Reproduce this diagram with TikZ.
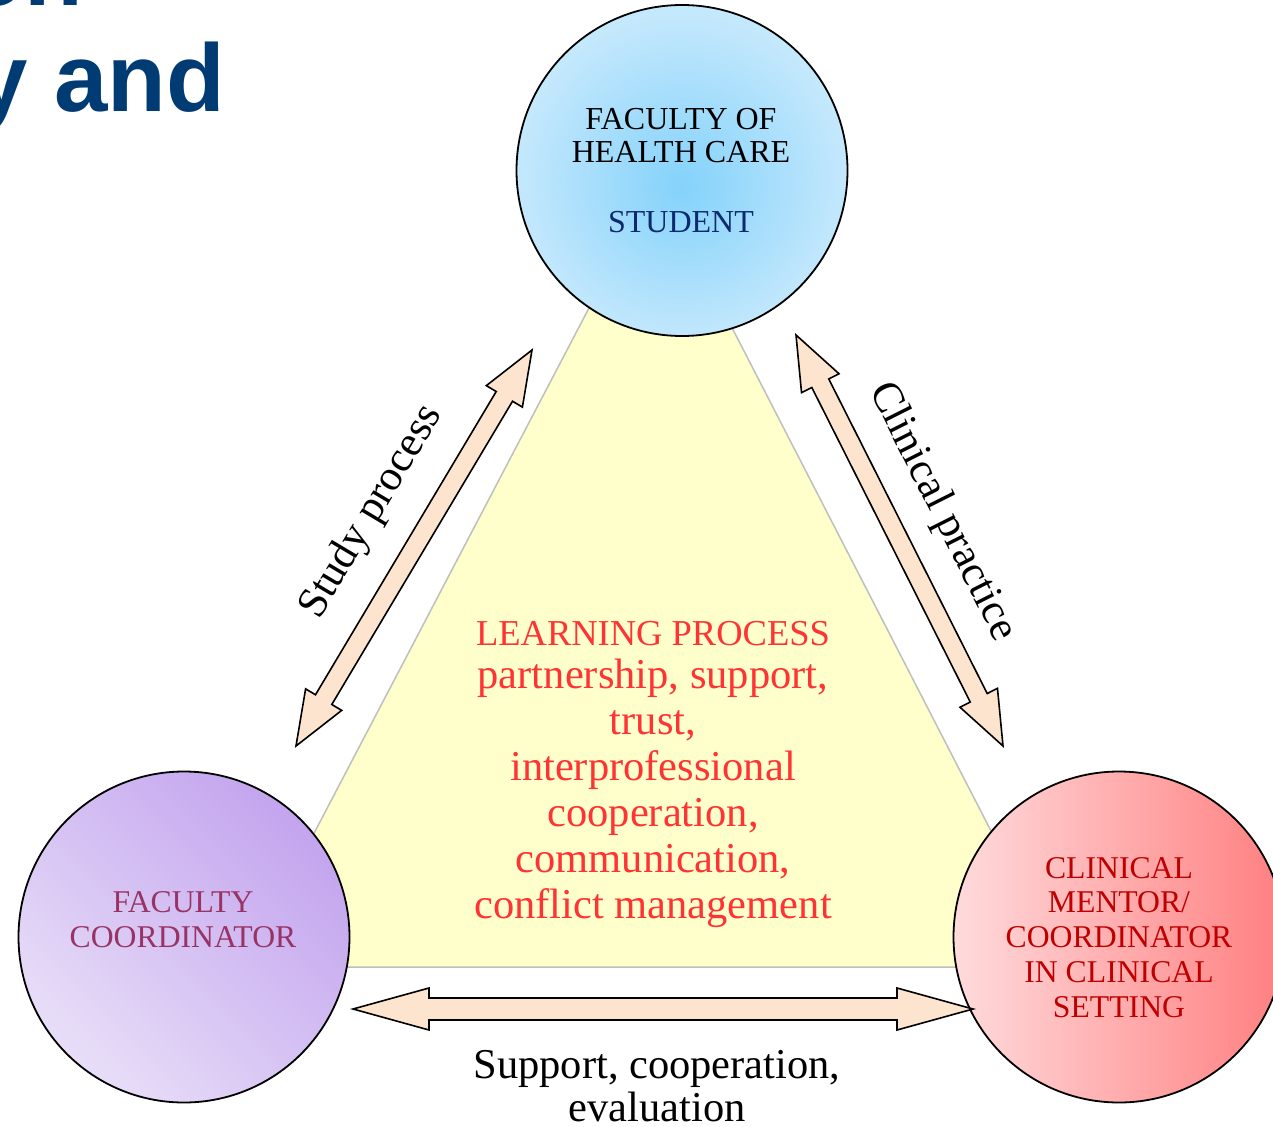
\documentclass[tikz,border=0pt]{standalone}
\usepackage{fontspec}
\setmainfont{Liberation Serif}
\newfontfamily\titlefont{Liberation Sans}
\usetikzlibrary{calc}
\definecolor{tbin}{HTML}{84D2FB}
\definecolor{tbout}{HTML}{C4E8FC}
\definecolor{pbot}{HTML}{E8DEF8}
\definecolor{ptop}{HTML}{C3A4EE}
\definecolor{rleft}{HTML}{FFDBDC}
\definecolor{rright}{HTML}{FF7F80}
\definecolor{titleblue}{HTML}{003B73}
\definecolor{studentblue}{HTML}{0E2A6E}
\definecolor{plum}{HTML}{993366}
\definecolor{mentorred}{HTML}{C00000}
\definecolor{learnred}{HTML}{FF3333}
\definecolor{trifill}{HTML}{FFFFCC}
\definecolor{trigray}{HTML}{BFBFBF}
\definecolor{peach}{HTML}{FDE4CF}
\pgfdeclareradialshading{topball}{\pgfpoint{0bp}{-2.5bp}}{color(0bp)=(tbin); color(25bp)=(tbout); color(50bp)=(tbout)}
\pgfdeclareverticalshading{purpball}{100bp}{color(0bp)=(pbot); color(25bp)=(pbot); color(75bp)=(ptop); color(100bp)=(ptop)}
\pgfdeclarehorizontalshading{redball}{100bp}{color(0bp)=(rleft); color(25bp)=(rleft); color(75bp)=(rright); color(100bp)=(rright)}
\tikzset{
  ball/.style={circle, draw=black, line width=1.8pt, minimum size=331pt, inner sep=0pt},
  barrow/.style={draw=black, fill=peach, line width=1.6pt, line join=miter},
  tri/.style={draw=trigray, fill=trifill, line width=1.5pt},
  txt/.style={inner sep=0pt, align=center, anchor=base},
}
\newcommand\blockarrow[5]{%
  \draw[barrow] (#1)
    -- ($(#1)!#5!(#2)!#4!90:(#2)$)
    -- ($(#1)!#5!(#2)!#3!90:(#2)$)
    -- ($(#2)!#5!(#1)!#3!-90:(#1)$)
    -- ($(#2)!#5!(#1)!#4!-90:(#1)$)
    -- (#2)
    -- ($(#2)!#5!(#1)!#4!90:(#1)$)
    -- ($(#2)!#5!(#1)!#3!90:(#1)$)
    -- ($(#1)!#5!(#2)!#3!-90:(#2)$)
    -- ($(#1)!#5!(#2)!#4!-90:(#2)$)
    -- cycle;}
\begin{document}
\begin{tikzpicture}[x=1pt,y=-1pt]
\useasboundingbox (0,0) rectangle (1273,1126);
\clip (0,0) rectangle (1273,1126);
\fill[white] (0,0) rectangle (1273,1126);
% title fragments
\node[inner sep=0pt, anchor=base west, text=titleblue, font=\titlefont\bfseries\fontsize{96}{106}\selectfont] (title1) at (-34,6) {on};
\node[inner sep=0pt, anchor=base west, text=titleblue, font=\titlefont\bfseries\fontsize{96}{106}\selectfont] (title2) at (-26,112) {y and};
% triangle
\coordinate (tTop) at (656,180);
\coordinate (tL) at (244,967);
\coordinate (tR) at (1061,967);
\draw[tri] (tTop) -- (tL) -- (tR) -- cycle;
% circles
\node[ball, shading=topball] (student) at (682,170.5) {};
\node[ball, shading=purpball, shading angle=-45] (faccoord) at (184,937) {};
\node[ball, shading=redball] (mentor) at (1119,937) {};
% circle texts (base anchor = last line baseline)
\node[txt, font=\fontsize{32}{33}\selectfont] (studT1) at (681,163) {FACULTY OF\\HEALTH CARE};
\node[txt, text=studentblue, font=\fontsize{32}{33}\selectfont] (studT2) at (681,232) {STUDENT};
\node[txt, text=plum, font=\fontsize{31.7}{35}\selectfont] (facT) at (183,947) {FACULTY\\COORDINATOR};
\node[txt, text=mentorred, font=\fontsize{31.7}{34.7}\selectfont] (menT) at (1119,1017) {CLINICAL\\MENTOR/\\COORDINATOR\\IN CLINICAL\\SETTING};
% learning text
\node[txt, text=learnred, font=\fontsize{42.5}{46}\selectfont] (learn) at (653,918) {{\fontsize{36.5}{46}\selectfont LEARNING PROCESS}\\[-3pt]partnership, support,\\trust,\\interprofessional\\cooperation,\\communication,\\conflict management};
% arrows
\coordinate (sA) at (296,746);
\coordinate (sB) at (532,350);
\coordinate (cA) at (796,335);
\coordinate (cB) at (1003,746);
\coordinate (bA) at (353,1009);
\coordinate (bB) at (973,1009);
\blockarrow{sA}{sB}{9.5pt}{21pt}{54pt}
\blockarrow{cA}{cB}{9.5pt}{21pt}{54pt}
\blockarrow{bA}{bB}{11pt}{21pt}{76pt}
% arrow labels
\node[inner sep=0pt, rotate=59.2, font=\fontsize{43}{45}\selectfont] (lblStudy) at (372,512) {Study process};
\node[inner sep=0pt, rotate=-63.3, font=\fontsize{43}{45}\selectfont] (lblClin) at (942,512) {Clinical practice};
\node[txt, font=\fontsize{42.5}{43}\selectfont] (lblSup) at (657,1121) {Support, cooperation,\\evaluation};
\end{tikzpicture}
\end{document}
